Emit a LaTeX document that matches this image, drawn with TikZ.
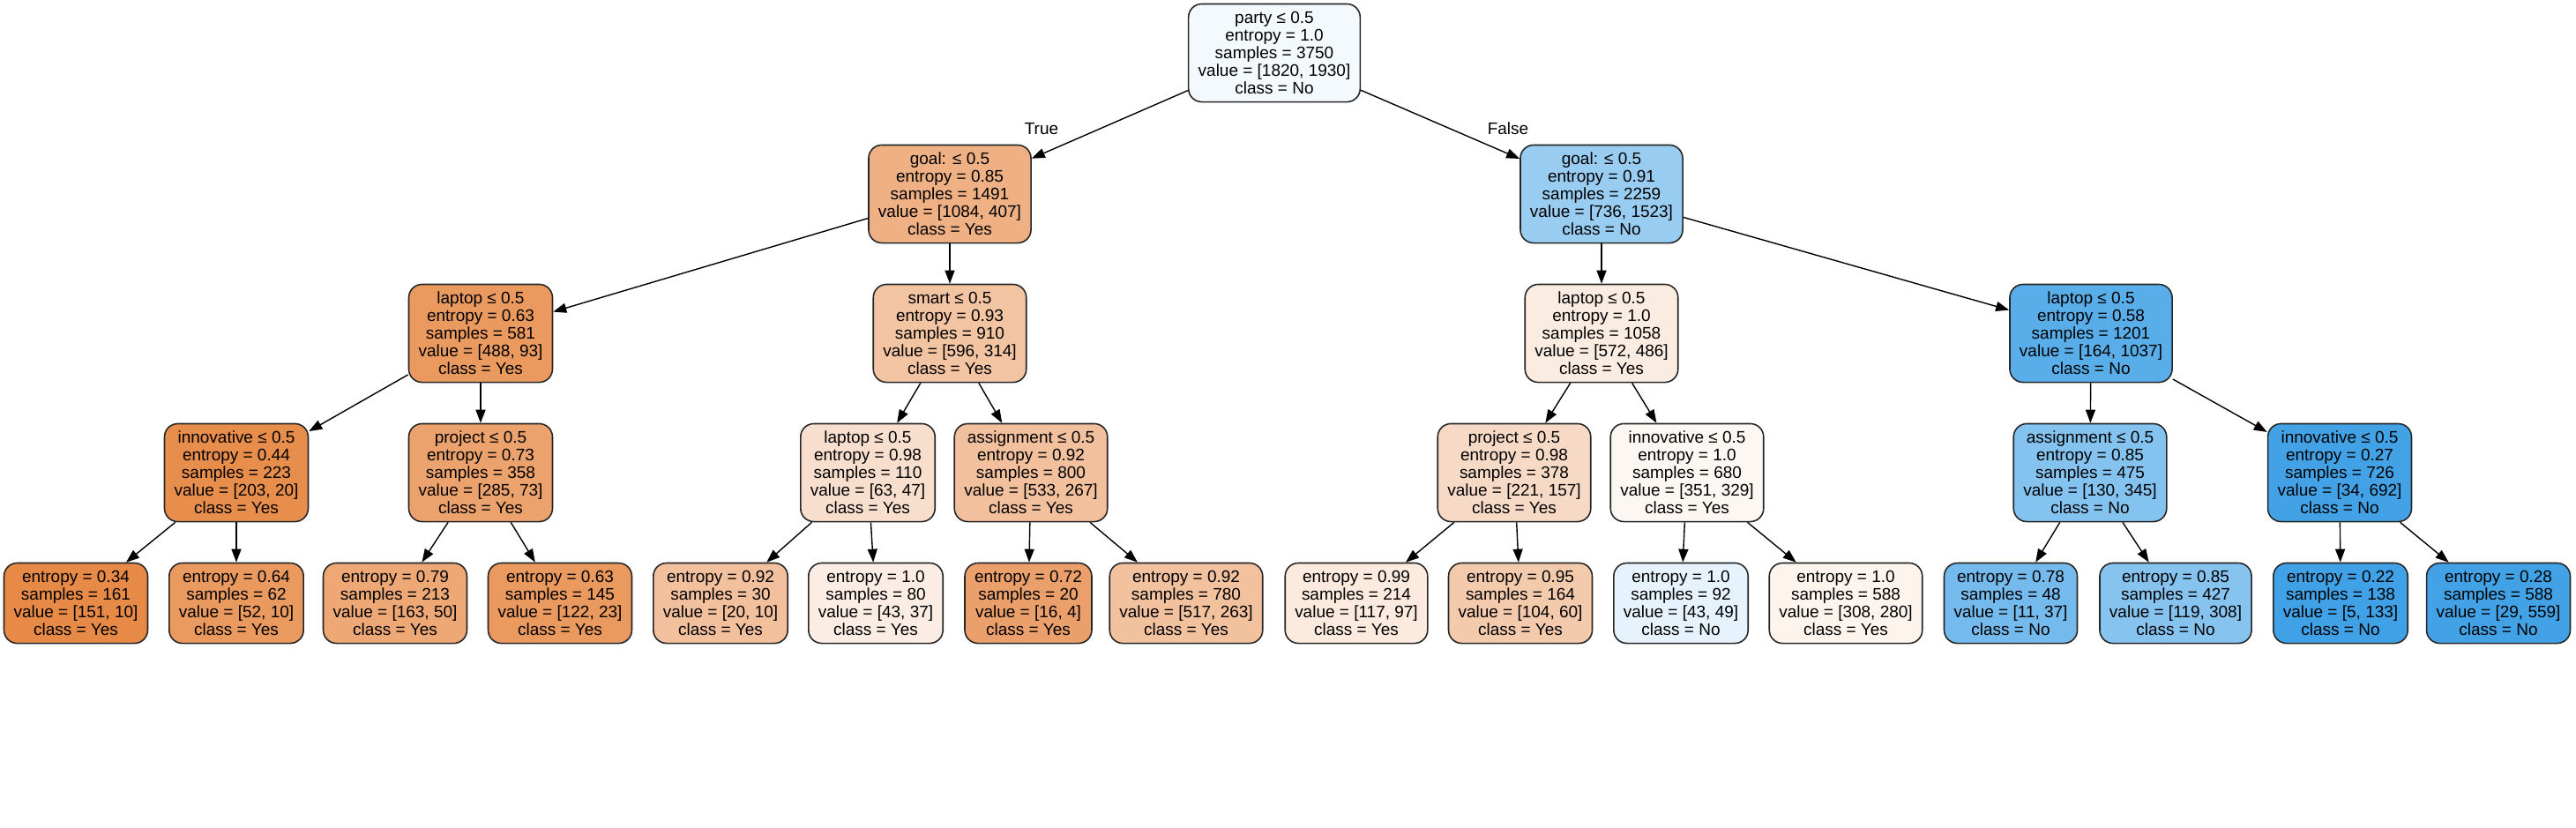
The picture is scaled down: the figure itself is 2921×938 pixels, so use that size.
\documentclass[tikz,border=0pt]{standalone}
\usepackage{fontspec}
\setmainfont{Liberation Sans}
\usetikzlibrary{arrows.meta}
\definecolor{yescol}{RGB}{229,129,57}
\definecolor{nocol}{RGB}{57,157,229}

\begin{document}
\begin{tikzpicture}[x=0.01cm,y=-0.01cm,
    every node/.style={font=\fontsize{5.4}{5.69}\selectfont},
    splitbox/.style={draw=black!85,line width=0.45pt,rounded corners=0.15cm,align=center,
        inner xsep=0.11cm,inner ysep=0pt,minimum height=1.11cm},
    leafbox/.style={splitbox,minimum height=0.91cm},
    branch/.style={-{Triangle[length=0.15cm,width=0.11cm]},line width=0.4pt}]
    \useasboundingbox (0,0) rectangle (2921,938);

    % Root and first split
    \node[splitbox,fill=nocol!6!white] (n0) at (1445,60)
        {party ≤ 0.5\\entropy = 1.0\\samples = 3750\\value = [1820, 1930]\\class = No};
    \node[splitbox,fill=yescol!62!white] (nL) at (1077,220)
        {goal: ≤ 0.5\\entropy = 0.85\\samples = 1491\\value = [1084, 407]\\class = Yes};
    \node[splitbox,fill=nocol!52!white] (nR) at (1816,220)
        {goal: ≤ 0.5\\entropy = 0.91\\samples = 2259\\value = [736, 1523]\\class = No};

    % Second level
    \node[splitbox,fill=yescol!81!white] (nLL) at (545,378)
        {laptop ≤ 0.5\\entropy = 0.63\\samples = 581\\value = [488, 93]\\class = Yes};
    \node[splitbox,fill=yescol!47!white] (nLR) at (1077,378)
        {smart ≤ 0.5\\entropy = 0.93\\samples = 910\\value = [596, 314]\\class = Yes};
    \node[splitbox,fill=yescol!15!white] (nRL) at (1816,378)
        {laptop ≤ 0.5\\entropy = 1.0\\samples = 1058\\value = [572, 486]\\class = Yes};
    \node[splitbox,fill=nocol!84!white] (nRR) at (2371,378)
        {laptop ≤ 0.5\\entropy = 0.58\\samples = 1201\\value = [164, 1037]\\class = No};

    % Third level
    \node[splitbox,fill=yescol!90!white] (nLLL) at (268,536)
        {innovative ≤ 0.5\\entropy = 0.44\\samples = 223\\value = [203, 20]\\class = Yes};
    \node[splitbox,fill=yescol!74!white] (nLLR) at (545,536)
        {project ≤ 0.5\\entropy = 0.73\\samples = 358\\value = [285, 73]\\class = Yes};
    \node[splitbox,fill=yescol!25!white] (nLRL) at (984,536)
        {laptop ≤ 0.5\\entropy = 0.98\\samples = 110\\value = [63, 47]\\class = Yes};
    \node[splitbox,fill=yescol!50!white] (nLRR) at (1169,536)
        {assignment ≤ 0.5\\entropy = 0.92\\samples = 800\\value = [533, 267]\\class = Yes};
    \node[splitbox,fill=yescol!29!white] (nRLL) at (1717,536)
        {project ≤ 0.5\\entropy = 0.98\\samples = 378\\value = [221, 157]\\class = Yes};
    \node[splitbox,fill=yescol!6!white] (nRLR) at (1913,536)
        {innovative ≤ 0.5\\entropy = 1.0\\samples = 680\\value = [351, 329]\\class = Yes};
    \node[splitbox,fill=nocol!62!white] (nRRL) at (2370,536)
        {assignment ≤ 0.5\\entropy = 0.85\\samples = 475\\value = [130, 345]\\class = No};
    \node[splitbox,fill=nocol!95!white] (nRRR) at (2653,536)
        {innovative ≤ 0.5\\entropy = 0.27\\samples = 726\\value = [34, 692]\\class = No};

    % Leaves
    \node[leafbox,fill=yescol!93!white] (lf1) at (86,684)
        {entropy = 0.34\\samples = 161\\value = [151, 10]\\class = Yes};
    \node[leafbox,fill=yescol!81!white] (lf2) at (268,684)
        {entropy = 0.64\\samples = 62\\value = [52, 10]\\class = Yes};
    \node[leafbox,fill=yescol!69!white] (lf3) at (448,684)
        {entropy = 0.79\\samples = 213\\value = [163, 50]\\class = Yes};
    \node[leafbox,fill=yescol!81!white] (lf4) at (635,684)
        {entropy = 0.63\\samples = 145\\value = [122, 23]\\class = Yes};
    \node[leafbox,fill=yescol!50!white] (lf5) at (817,684)
        {entropy = 0.92\\samples = 30\\value = [20, 10]\\class = Yes};
    \node[leafbox,fill=yescol!14!white] (lf6) at (993,684)
        {entropy = 1.0\\samples = 80\\value = [43, 37]\\class = Yes};
    \node[leafbox,fill=yescol!75!white] (lf7) at (1166,684)
        {entropy = 0.72\\samples = 20\\value = [16, 4]\\class = Yes};
    \node[leafbox,fill=yescol!49!white] (lf8) at (1345,684)
        {entropy = 0.92\\samples = 780\\value = [517, 263]\\class = Yes};
    \node[leafbox,fill=yescol!17!white] (lf9) at (1538,684)
        {entropy = 0.99\\samples = 214\\value = [117, 97]\\class = Yes};
    \node[leafbox,fill=yescol!42!white] (lf10) at (1724,684)
        {entropy = 0.95\\samples = 164\\value = [104, 60]\\class = Yes};
    \node[leafbox,fill=nocol!12!white] (lf11) at (1906,684)
        {entropy = 1.0\\samples = 92\\value = [43, 49]\\class = No};
    \node[leafbox,fill=yescol!9!white] (lf12) at (2093,684)
        {entropy = 1.0\\samples = 588\\value = [308, 280]\\class = Yes};
    \node[leafbox,fill=nocol!70!white] (lf13) at (2280,684)
        {entropy = 0.78\\samples = 48\\value = [11, 37]\\class = No};
    \node[leafbox,fill=nocol!61!white] (lf14) at (2467,684)
        {entropy = 0.85\\samples = 427\\value = [119, 308]\\class = No};
    \node[leafbox,fill=nocol!96!white] (lf15) at (2654,684)
        {entropy = 0.22\\samples = 138\\value = [5, 133]\\class = No};
    \node[leafbox,fill=nocol!95!white] (lf16) at (2833,684)
        {entropy = 0.28\\samples = 588\\value = [29, 559]\\class = No};

    % Branches
    \draw[branch] (n0) -- (nL);
    \draw[branch] (n0) -- (nR);
    \node (ltrue) at (1181,146) {True};
    \node (lfalse) at (1710,146) {False};
    \draw[branch] (nL) -- (nLL);
    \draw[branch] (nL) -- (nLR);
    \draw[branch] (nR) -- (nRL);
    \draw[branch] (nR) -- (nRR);
    \draw[branch] (nLL) -- (nLLL);
    \draw[branch] (nLL) -- (nLLR);
    \draw[branch] (nLR) -- (nLRL);
    \draw[branch] (nLR) -- (nLRR);
    \draw[branch] (nRL) -- (nRLL);
    \draw[branch] (nRL) -- (nRLR);
    \draw[branch] (nRR) -- (nRRL);
    \draw[branch] (nRR) -- (nRRR);
    \draw[branch] (nLLL) -- (lf1);
    \draw[branch] (nLLL) -- (lf2);
    \draw[branch] (nLLR) -- (lf3);
    \draw[branch] (nLLR) -- (lf4);
    \draw[branch] (nLRL) -- (lf5);
    \draw[branch] (nLRL) -- (lf6);
    \draw[branch] (nLRR) -- (lf7);
    \draw[branch] (nLRR) -- (lf8);
    \draw[branch] (nRLL) -- (lf9);
    \draw[branch] (nRLL) -- (lf10);
    \draw[branch] (nRLR) -- (lf11);
    \draw[branch] (nRLR) -- (lf12);
    \draw[branch] (nRRL) -- (lf13);
    \draw[branch] (nRRL) -- (lf14);
    \draw[branch] (nRRR) -- (lf15);
    \draw[branch] (nRRR) -- (lf16);
\end{tikzpicture}
\end{document}
